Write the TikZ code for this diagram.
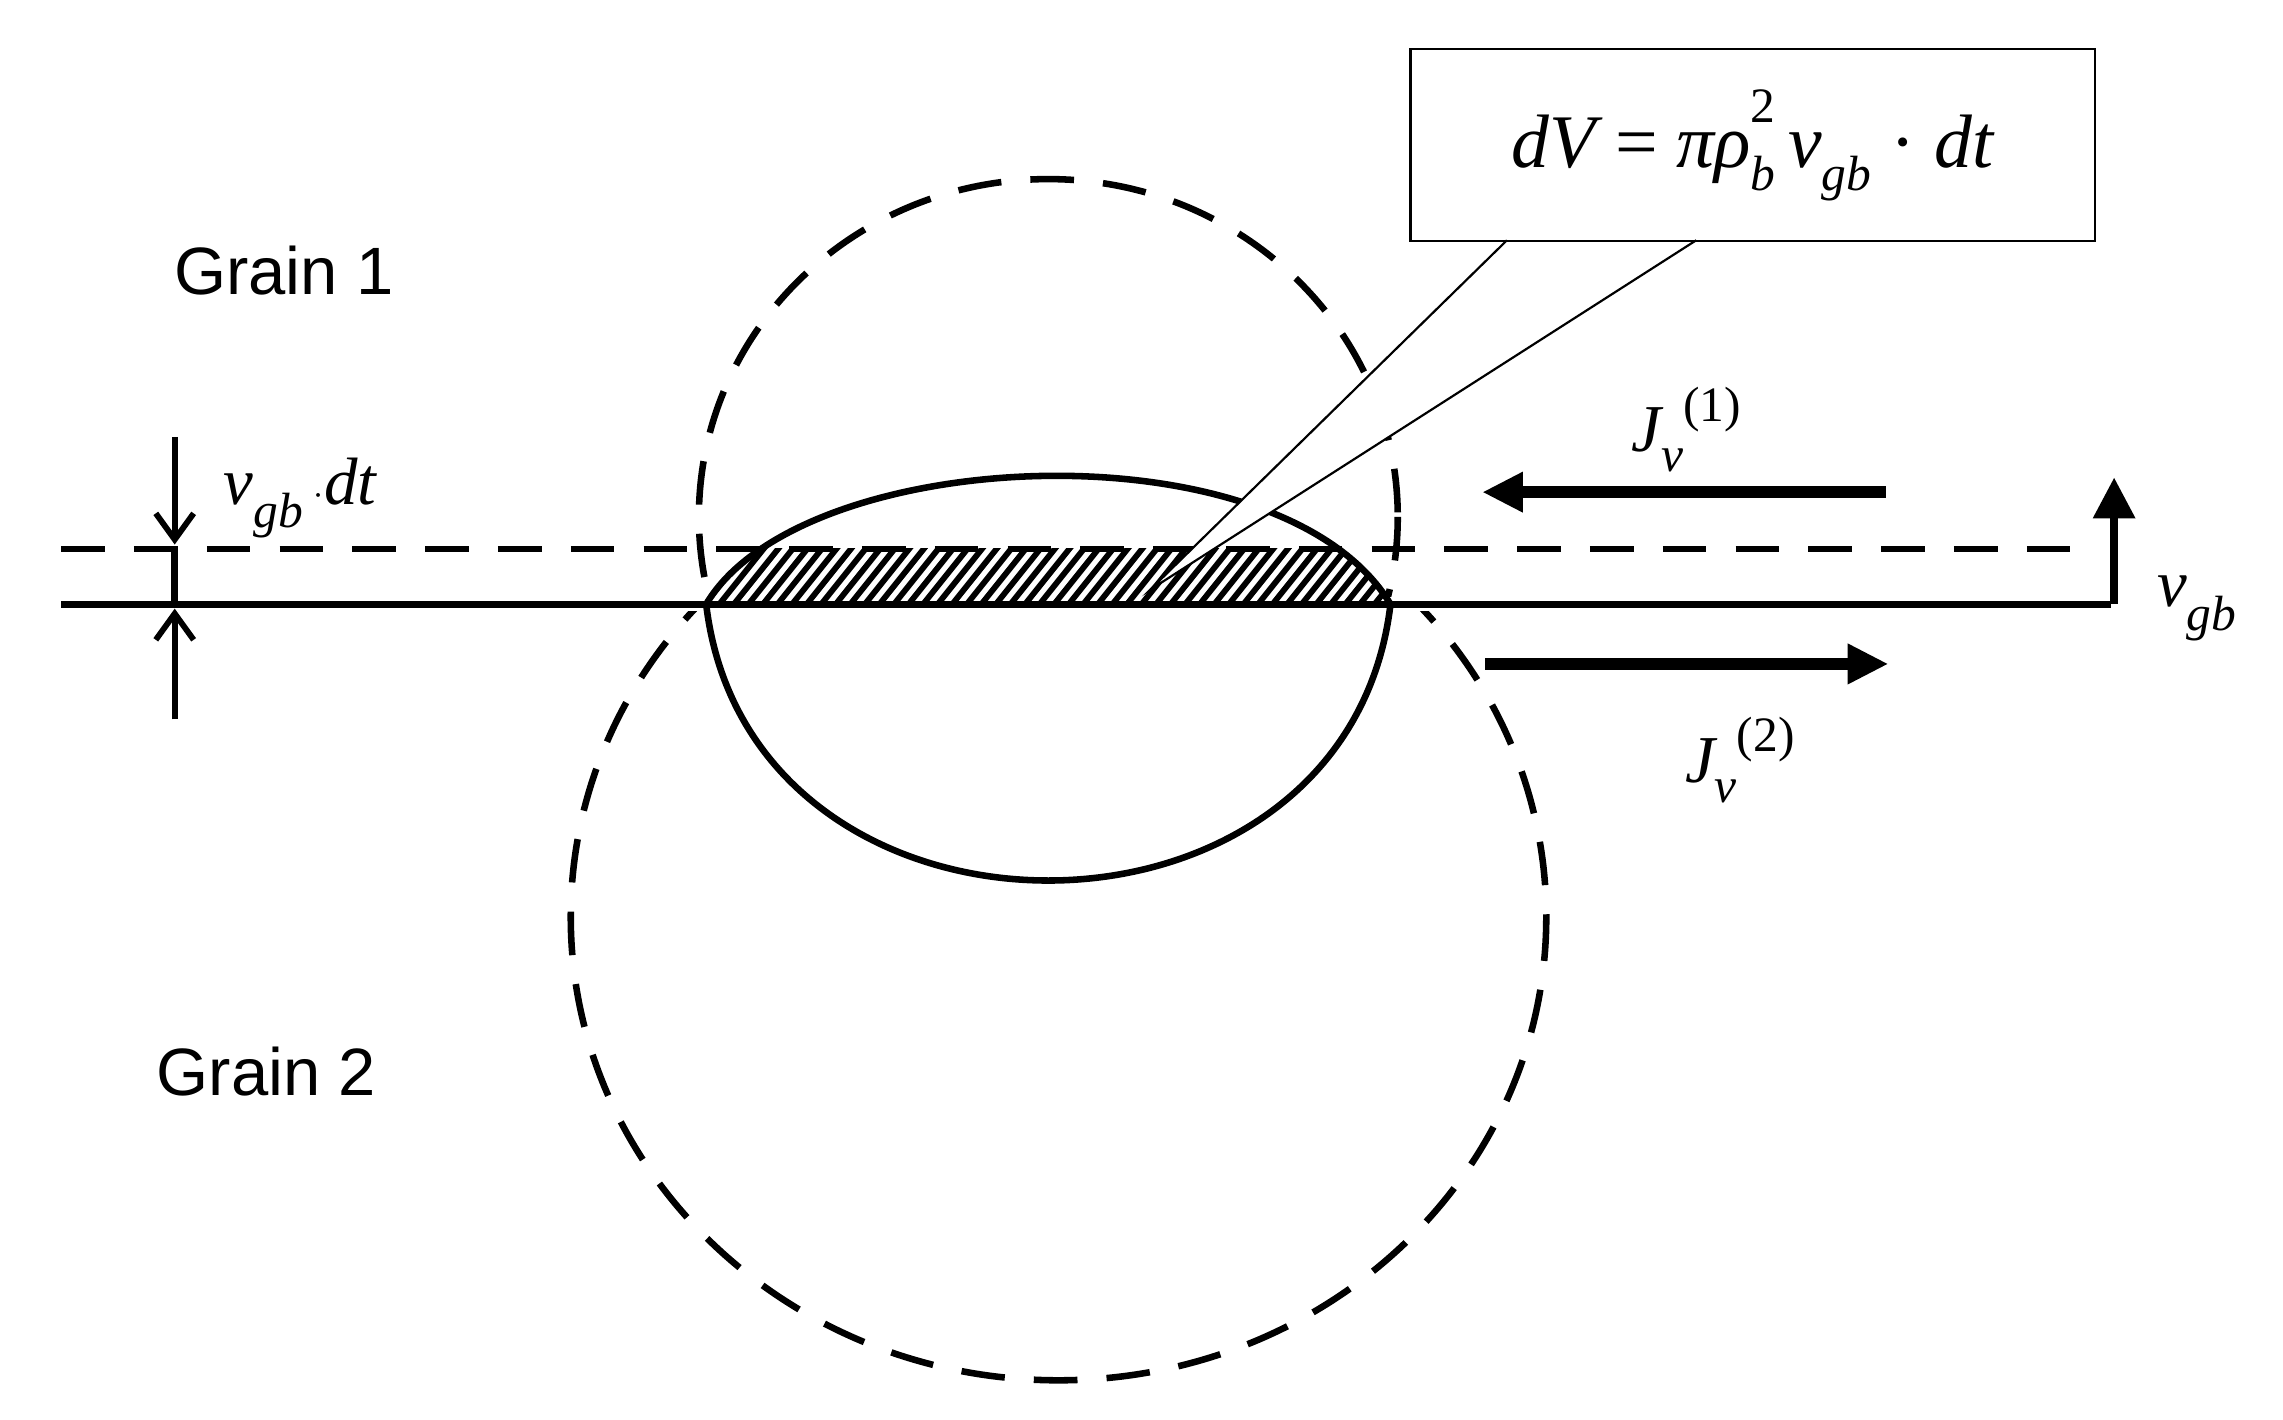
\documentclass[tikz,border=0pt]{standalone}
\usepackage{fontspec}
\setmainfont{Liberation Serif}
\newfontfamily\sansf{Liberation Sans}
\usetikzlibrary{patterns,arrows.meta}
\tikzset{hatch/.style={pattern=north east lines}}
\begin{document}
\begin{tikzpicture}[x=1pt,y=-1pt,
  ln/.style={line width=4.5pt},
  dsh/.style={line width=4.5pt,dash pattern=on 30pt off 20pt},
  arr/.style={line width=8pt,-{Triangle[length=28pt,width=26pt]}},
  sarr/.style={line width=4pt,-{Straight Barb[length=18pt,width=26pt]}},
  lbl/.style={font=\fontsize{46}{50}\selectfont\itshape},
  grain/.style={font=\fontsize{46}{50}\selectfont\sansf}]
\useasboundingbox (0,0) rectangle (1568,975);
% hatched region
\begin{scope}
\clip (485,377) rectangle (955,415);
\clip (485,415) .. controls (550,305) and (880,290) .. (955,415) -- cycle;
\foreach \i in {0,...,60} {\draw[line width=4pt] (440+\i*10,420) -- (480+\i*10,370);}
\end{scope}
% dashed circles
\begin{scope}
\clip (0,0) rectangle (1568,410);
\draw[dsh] (720,355) ellipse [x radius=240, y radius=232];
\end{scope}
\begin{scope}
\clip (0,420) rectangle (1568,975);
\draw[dsh] (727,630) ellipse [x radius=335, y radius=318];
\end{scope}
% lines
\draw[dsh] (42,377) -- (1440,377);
\draw[ln] (42,415) -- (955,415) -- (1450,415);
\draw[ln] (485,415) .. controls (550,305) and (880,290) .. (955,415);
\draw[ln] (485,415) .. controls (515,668) and (925,668) .. (955,415);
\coordinate (vb) at (1452,415);
\coordinate (vt) at (1452,328);
\draw[line width=5pt,-{Triangle[length=28pt,width=28pt]}] (vb) -- (vt);
\node[lbl,anchor=west] at (1478,418) {v\raisebox{-0.35em}{\fontsize{34}{36}\selectfont gb}};
% left markers
\coordinate (a1) at (120,300); \coordinate (a2) at (120,374);
\coordinate (b1) at (120,494); \coordinate (b2) at (120,418);
\draw[sarr] (a1) -- (a2);
\draw[sarr] (b1) -- (b2);
\draw[ln] (120,377) -- (120,415);
\node[lbl,anchor=west] at (150,342) {v\raisebox{-0.35em}{\fontsize{34}{36}\selectfont gb}\,\upshape$\cdot$\itshape dt};
% flux arrows
\coordinate (j1s) at (1295,338); \coordinate (j1e) at (1018,338);
\coordinate (j2s) at (1020,456); \coordinate (j2e) at (1297,456);
\draw[arr] (j1s) -- (j1e);
\draw[arr] (j2s) -- (j2e);
\node[lbl] at (1158,295) {J\raisebox{-0.3em}{\fontsize{34}{36}\selectfont v}\raisebox{0.45em}{\upshape\fontsize{34}{36}\selectfont(1)}};
\node[lbl] at (1195,522) {J\raisebox{-0.3em}{\fontsize{34}{36}\selectfont v}\raisebox{0.45em}{\upshape\fontsize{34}{36}\selectfont(2)}};
% grains
\node[grain] at (195,186) {Grain 1};
\node[grain] at (183,736) {Grain 2};
% callout
\coordinate (tip) at (790,405);
\draw[line width=1.5pt,fill=white] (1035,165) -- (tip) -- (1165,165);
\node[draw,line width=1.5pt,minimum width=470pt,minimum height=132pt,anchor=north west,
  font=\fontsize{52}{56}\selectfont\itshape] (box) at (968,33)
  {dV \upshape=\ \itshape πρ\makebox[0pt][l]{\raisebox{0.6em}{\upshape\fontsize{34}{36}\selectfont 2}}\raisebox{-0.3em}{\fontsize{34}{36}\selectfont b}\,v\raisebox{-0.3em}{\fontsize{34}{36}\selectfont gb}\ \upshape·\ \itshape dt};
\end{tikzpicture}
\end{document}
